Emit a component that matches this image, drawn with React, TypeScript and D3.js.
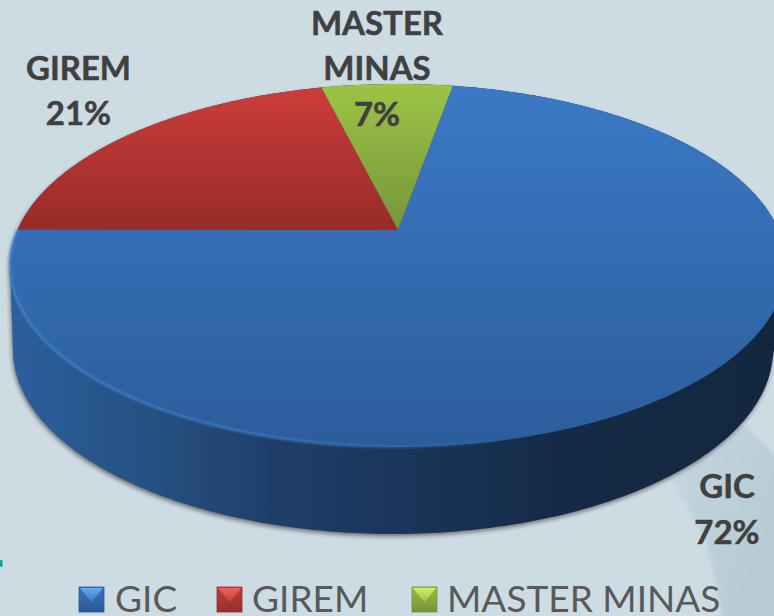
import React from "react";
import * as d3 from "d3";

const categories = ["GIC", "GIREM", "MASTER MINAS"];
const values = [72.3, 21.1, 6.6];
const labelLines = [["GIC"], ["GIREM"], ["MASTER", "MINAS"]];

const W = 774;
const H = 616;
const START = (9.9 * Math.PI) / 180;
const APEX = { x: 398, y: 230 };
const PERSP = { a: 129.6, c: -0.1956, d: 380.5 };
const BOTTOM = { cx: 393, cy: 350, rx: 380, ry: 184 };

const project = (t: number): [number, number] => {
  const u = Math.sin(t);
  const v = -Math.cos(t);
  const den = 1 + PERSP.c * v;
  return [APEX.x + (PERSP.d * u) / den, (PERSP.a * v + APEX.y) / den];
};
const bottomPt = (t: number): [number, number] => [
  BOTTOM.cx + BOTTOM.rx * Math.sin(t),
  BOTTOM.cy - BOTTOM.ry * Math.cos(t),
];

const line = d3.line();
const pie = d3
  .pie<number>()
  .sort(null)
  .startAngle(START)
  .endAngle(START + 2 * Math.PI);
const arcs = pie(values);

const samples = (a: number, b: number, n = 160) =>
  d3.range(n + 1).map((i) => a + ((b - a) * i) / n);

const slicePath = (a: number, b: number) =>
  line([[APEX.x, APEX.y], ...samples(a, b).map(project)]) + "Z";

const full = samples(0, 2 * Math.PI, 360);
const hull = d3.polygonHull([...full.map(project), ...full.map(bottomPt)]) as [number, number][];
const wallPath = line(hull) + "Z";
const rimPath = line(samples(Math.PI * 0.55, Math.PI * 1.5).map(project)) || "";

const gradients = [
  ["gBlue", "#3b79c6", "#2c5d9b", 84, 447],
  ["gRed", "#cc3d3a", "#962b29", 88, 231],
  ["gGreen", "#9cc446", "#76953a", 84, 231],
] as const;

const legendLayout = [
  { x: 79, tx: 115, base: "#3a75bd", low: "#2a5a96", top: "#6aa9ee", edge: "#2a5a94" },
  { x: 217, tx: 252, base: "#c03e3b", low: "#962f2d", top: "#f0625c", edge: "#8f2d2b" },
  { x: 412, tx: 447, base: "#9abc46", low: "#789438", top: "#d2f060", edge: "#74903a" },
];

const labelLayout = [
  { x: 727, y: [498, 544] },
  { x: 78.5, y: [80, 125] },
  { x: 377, y: [35, 80, 126] },
];

const pct = d3.format(".0f");
const total = d3.sum(values);

export default function App() {
  return (
    <svg
      width={W}
      height={H}
      viewBox={`0 0 ${W} ${H}`}
      style={{ position: "fixed", left: 0, top: 0, display: "block" }}
    >
      <defs>
        {gradients.map(([id, c1, c2, y1, y2]) => (
          <linearGradient key={id} id={id} gradientUnits="userSpaceOnUse" x1={0} x2={0} y1={y1} y2={y2}>
            <stop offset="0" stopColor={c1} />
            <stop offset="1" stopColor={c2} />
          </linearGradient>
        ))}
        {legendLayout.map((l, i) => (
          <React.Fragment key={i}>
            <linearGradient id={`sw${i}`} x1="0" x2="0" y1="0" y2="1">
              <stop offset="0" stopColor={l.base} />
              <stop offset="1" stopColor={l.low} />
            </linearGradient>
            <linearGradient id={`tp${i}`} x1="0" x2="0" y1="0" y2="1">
              <stop offset="0" stopColor={l.top} />
              <stop offset="1" stopColor={l.base} />
            </linearGradient>
          </React.Fragment>
        ))}
        <linearGradient id="gWall" gradientUnits="userSpaceOnUse" x1={10} x2={774} y1={0} y2={0}>
          <stop offset="0" stopColor="#2c5f9e" />
          <stop offset="0.17" stopColor="#265283" />
          <stop offset="0.34" stopColor="#1f3f6b" />
          <stop offset="0.52" stopColor="#1a3558" />
          <stop offset="0.72" stopColor="#152a47" />
          <stop offset="1" stopColor="#13273f" />
        </linearGradient>
        <linearGradient id="gRim" gradientUnits="userSpaceOnUse" x1={10} x2={520} y1={0} y2={0}>
          <stop offset="0" stopColor="#4389d8" stopOpacity="0.95" />
          <stop offset="0.6" stopColor="#4389d8" stopOpacity="0.7" />
          <stop offset="1" stopColor="#4389d8" stopOpacity="0" />
        </linearGradient>
        <linearGradient id="gBack" gradientUnits="userSpaceOnUse" x1={680} x2={774} y1={480} y2={520}>
          <stop offset="0" stopColor="#c2d4dc" />
          <stop offset="1" stopColor="#b7ccd5" />
        </linearGradient>
        <filter id="blur" x="-5%" y="-5%" width="110%" height="110%">
          <feGaussianBlur stdDeviation="2.2" />
        </filter>
        <filter id="soft" x="-5%" y="-5%" width="110%" height="110%">
          <feGaussianBlur stdDeviation="0.8" />
        </filter>
        <filter id="softer" x="-10%" y="-10%" width="120%" height="120%">
          <feGaussianBlur stdDeviation="2" />
        </filter>
      </defs>

      <rect width={W} height={H} fill="#cddce3" />
      <path
        d={line([[800, 480], [745, 425], [700, 445], [672, 480], [706, 540], [728, 640], [800, 640]]) + "Z"}
        fill="url(#gBack)"
        filter="url(#softer)"
      />
      <rect x={0} y={560} width={2.5} height={7} rx={1} fill="#00a6a8" />

      <path d={wallPath} fill="#555" opacity={0.75} transform="translate(-1,2.5)" filter="url(#blur)" />
      <path d={wallPath} fill="url(#gWall)" />

      {arcs.map((d, i) => (
        <path key={categories[i]} d={slicePath(d.startAngle, d.endAngle)} fill={`url(#${gradients[i][0]})`} />
      ))}
      <path d={rimPath} fill="none" stroke="url(#gRim)" strokeWidth={2} filter="url(#soft)" />

      {arcs.map((d, i) => {
        const lay = labelLayout[i];
        const lines = [...labelLines[i], `${pct((d.value / total) * 100)}%`];
        return lines.map((t, j) => (
          <text
            key={`${i}-${j}`}
            x={lay.x}
            y={lay.y[j]}
            textAnchor="middle"
            fontFamily="Lato, 'Open Sans', sans-serif"
            fontWeight={700}
            fontSize={33}
            fill="#404040"
            stroke="#404040"
            strokeWidth={0.5}
          >
            {t}
          </text>
        ));
      })}

      {categories.map((c, i) => {
        const l = legendLayout[i];
        const y = 587;
        const s = 25;
        return (
          <g key={c}>
            <rect x={l.x} y={y} width={s} height={s} fill={`url(#sw${i})`} stroke={l.edge} strokeWidth={0.8} />
            <path
              d={line([[l.x + 1, y + 1], [l.x + s - 1, y + 1], [l.x + s / 2, y + s * 0.62]]) + "Z"}
              fill={`url(#tp${i})`}
            />
            <text
              x={l.tx}
              y={612}
              fontFamily="Lato, 'Open Sans', sans-serif"
              fontWeight={400}
              fontSize={37}
              fill="#595959"
            >
              {c}
            </text>
          </g>
        );
      })}
    </svg>
  );
}
